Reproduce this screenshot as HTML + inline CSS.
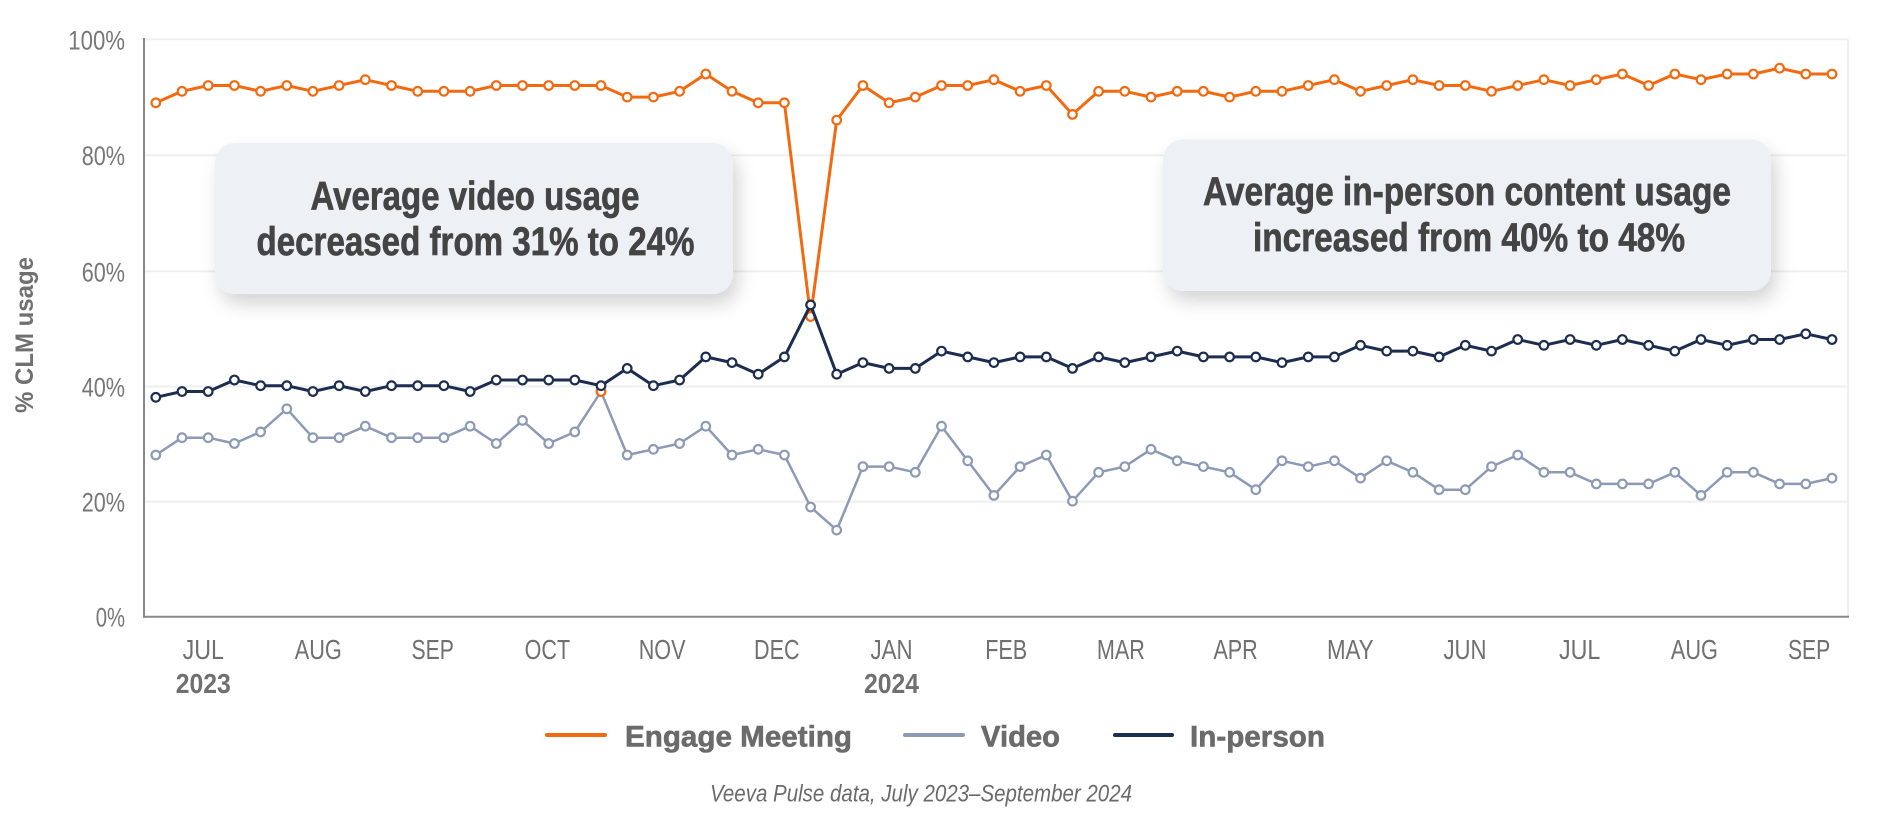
<!DOCTYPE html>
<html>
<head>
<meta charset="utf-8">
<style>
  html,body{margin:0;padding:0;background:#fff;}
  svg{display:block;}
  text{font-family:"Liberation Sans Narrow","Liberation Sans",sans-serif;}
</style>
</head>
<body>
<svg width="1880" height="817" viewBox="0 0 1880 817" xmlns="http://www.w3.org/2000/svg">
  <defs>
    <filter id="sh" x="-10%" y="-15%" width="125%" height="150%">
      <feDropShadow dx="5" dy="10" stdDeviation="9" flood-color="#000" flood-opacity="0.17"/>
    </filter>
    <marker id="mo" markerUnits="userSpaceOnUse" markerWidth="16" markerHeight="16" refX="8" refY="8" overflow="visible">
      <circle cx="8" cy="8" r="4.3" fill="#fff" stroke="#f26a10" stroke-width="2.2"/>
    </marker>
    <marker id="mv" markerUnits="userSpaceOnUse" markerWidth="16" markerHeight="16" refX="8" refY="8" overflow="visible">
      <circle cx="8" cy="8" r="4.3" fill="#fff" stroke="#8d9ab6" stroke-width="2.2"/>
    </marker>
    <marker id="mn" markerUnits="userSpaceOnUse" markerWidth="16" markerHeight="16" refX="8" refY="8" overflow="visible">
      <circle cx="8" cy="8" r="4.3" fill="#fff" stroke="#1d2d4f" stroke-width="2.2"/>
    </marker>
  </defs>

  <!-- gridlines -->
  <g stroke="#efefef" stroke-width="2">
    <line x1="144" y1="39.3" x2="1848" y2="39.3"/>
    <line x1="144" y1="155.2" x2="1848" y2="155.2"/>
    <line x1="144" y1="271.3" x2="1848" y2="271.3"/>
    <line x1="144" y1="386.5" x2="1848" y2="386.5"/>
    <line x1="144" y1="501.6" x2="1848" y2="501.6"/>
    <line x1="1848" y1="39.3" x2="1848" y2="616.7"/>
  </g>

  <!-- axes -->
  <line x1="144" y1="38" x2="144" y2="617.7" stroke="#888" stroke-width="2"/>
  <line x1="143" y1="616.7" x2="1849" y2="616.7" stroke="#888" stroke-width="2"/>

  <!-- y tick labels -->
  <g fill="#777" font-size="27" text-anchor="end">
    <text x="125" y="49.3" textLength="56.7" lengthAdjust="spacingAndGlyphs">100%</text>
    <text x="125" y="165.2" textLength="43.3" lengthAdjust="spacingAndGlyphs">80%</text>
    <text x="125" y="281.3" textLength="43.3" lengthAdjust="spacingAndGlyphs">60%</text>
    <text x="125" y="396.5" textLength="43.3" lengthAdjust="spacingAndGlyphs">40%</text>
    <text x="125" y="511.6" textLength="43.3" lengthAdjust="spacingAndGlyphs">20%</text>
    <text x="125" y="626.7" textLength="29.3" lengthAdjust="spacingAndGlyphs">0%</text>
  </g>

  <!-- y axis title -->
  <text transform="translate(33,335) rotate(-90)" text-anchor="middle" font-size="25" font-weight="bold" fill="#707070" textLength="156" lengthAdjust="spacingAndGlyphs">% CLM usage</text>

  <!-- x labels -->
  <g fill="#707070" font-size="28" text-anchor="middle">
    <text x="203.3" y="659" textLength="41.3" lengthAdjust="spacingAndGlyphs">JUL</text>
    <text x="318.3" y="659" textLength="47" lengthAdjust="spacingAndGlyphs">AUG</text>
    <text x="432.7" y="659" textLength="42.3" lengthAdjust="spacingAndGlyphs">SEP</text>
    <text x="547.4" y="659" textLength="45.5" lengthAdjust="spacingAndGlyphs">OCT</text>
    <text x="662.1" y="659" textLength="46.7" lengthAdjust="spacingAndGlyphs">NOV</text>
    <text x="776.8" y="659" textLength="45.5" lengthAdjust="spacingAndGlyphs">DEC</text>
    <text x="891.5" y="659" textLength="42" lengthAdjust="spacingAndGlyphs">JAN</text>
    <text x="1006.2" y="659" textLength="42" lengthAdjust="spacingAndGlyphs">FEB</text>
    <text x="1120.9" y="659" textLength="48" lengthAdjust="spacingAndGlyphs">MAR</text>
    <text x="1235.6" y="659" textLength="44.3" lengthAdjust="spacingAndGlyphs">APR</text>
    <text x="1350.3" y="659" textLength="46.7" lengthAdjust="spacingAndGlyphs">MAY</text>
    <text x="1465" y="659" textLength="43" lengthAdjust="spacingAndGlyphs">JUN</text>
    <text x="1579.7" y="659" textLength="41.3" lengthAdjust="spacingAndGlyphs">JUL</text>
    <text x="1694.4" y="659" textLength="47" lengthAdjust="spacingAndGlyphs">AUG</text>
    <text x="1809.1" y="659" textLength="42.3" lengthAdjust="spacingAndGlyphs">SEP</text>
    <text x="203.3" y="693" font-weight="bold" textLength="55" lengthAdjust="spacingAndGlyphs">2023</text>
    <text x="891.5" y="693" font-weight="bold" textLength="55" lengthAdjust="spacingAndGlyphs">2024</text>
  </g>

  <!-- annotation boxes -->
  <rect x="215" y="143" width="518" height="151" rx="20" ry="20" fill="#edf0f5" filter="url(#sh)"/>
  <rect x="1163" y="139.5" width="608" height="151.5" rx="20" ry="20" fill="#edf0f5" filter="url(#sh)"/>
  <g fill="#444" stroke="#444" stroke-width="0.7" font-size="40" font-weight="bold" text-anchor="middle">
    <text x="475" y="209.3" textLength="329" lengthAdjust="spacingAndGlyphs">Average video usage</text>
    <text x="475.5" y="255" textLength="438" lengthAdjust="spacingAndGlyphs">decreased from 31% to 24%</text>
    <text x="1467" y="204.8" textLength="528" lengthAdjust="spacingAndGlyphs">Average in-person content usage</text>
    <text x="1469" y="251" textLength="432" lengthAdjust="spacingAndGlyphs">increased from 40% to 48%</text>
  </g>

  <!-- Engage Meeting -->
  <polyline fill="none" stroke="#f26a10" stroke-width="3" stroke-linejoin="round"
    marker-start="url(#mo)" marker-mid="url(#mo)" marker-end="url(#mo)"
    points="155.8,102.8 182,91.3 208.2,85.5 234.4,85.5 260.6,91.3 286.8,85.5 312.9,91.3 339.1,85.5 365.3,79.7 391.5,85.5 417.7,91.3 443.9,91.3 470.1,91.3 496.3,85.5 522.5,85.5 548.7,85.5 574.8,85.5 601,85.5 627.2,97.1 653.4,97.1 679.6,91.3 705.8,74 732,91.3 758.2,102.8 784.4,102.8 810.6,316.5 836.7,120.1 862.9,85.5 889.1,102.8 915.3,97.1 941.5,85.5 967.7,85.5 993.9,79.7 1020.1,91.3 1046.3,85.5 1072.5,114.4 1098.6,91.3 1124.8,91.3 1151,97.1 1177.2,91.3 1203.4,91.3 1229.6,97.1 1255.8,91.3 1282,91.3 1308.2,85.5 1334.4,79.7 1360.5,91.3 1386.7,85.5 1412.9,79.7 1439.1,85.5 1465.3,85.5 1491.5,91.3 1517.7,85.5 1543.9,79.7 1570.1,85.5 1596.3,79.7 1622.4,74 1648.6,85.5 1674.8,74 1701,79.7 1727.2,74 1753.4,74 1779.6,68.2 1805.8,74 1832,74"/>

  <!-- Video -->
  <polyline fill="none" stroke="#8d9ab6" stroke-width="2.5" stroke-linejoin="round"
    marker-start="url(#mv)" marker-mid="url(#mv)" marker-end="url(#mv)"
    points="155.8,455 182,437.7 208.2,437.7 234.4,443.5 260.6,431.9 286.8,408.8 312.9,437.7 339.1,437.7 365.3,426.2 391.5,437.7 417.7,437.7 443.9,437.7 470.1,426.2 496.3,443.5 522.5,420.4 548.7,443.5 574.8,431.9 601,391.5 627.2,455 653.4,449.3 679.6,443.5 705.8,426.2 732,455 758.2,449.3 784.4,455 810.6,507 836.7,530.1 862.9,466.6 889.1,466.6 915.3,472.3 941.5,426.2 967.7,460.8 993.9,495.4 1020.1,466.6 1046.3,455 1072.5,501.2 1098.6,472.3 1124.8,466.6 1151,449.3 1177.2,460.8 1203.4,466.6 1229.6,472.3 1255.8,489.7 1282,460.8 1308.2,466.6 1334.4,460.8 1360.5,478.1 1386.7,460.8 1412.9,472.3 1439.1,489.7 1465.3,489.7 1491.5,466.6 1517.7,455 1543.9,472.3 1570.1,472.3 1596.3,483.9 1622.4,483.9 1648.6,483.9 1674.8,472.3 1701,495.4 1727.2,472.3 1753.4,472.3 1779.6,483.9 1805.8,483.9 1832,478.1"/>
  <circle cx="601" cy="391.5" r="4.3" fill="#fff" stroke="#f26a10" stroke-width="2.2"/>

  <!-- In-person -->
  <polyline fill="none" stroke="#1d2d4f" stroke-width="3" stroke-linejoin="round"
    marker-start="url(#mn)" marker-mid="url(#mn)" marker-end="url(#mn)"
    points="155.8,397.3 182,391.5 208.2,391.5 234.4,380 260.6,385.7 286.8,385.7 312.9,391.5 339.1,385.7 365.3,391.5 391.5,385.7 417.7,385.7 443.9,385.7 470.1,391.5 496.3,380 522.5,380 548.7,380 574.8,380 601,385.7 627.2,368.4 653.4,385.7 679.6,380 705.8,356.9 732,362.6 758.2,374.2 784.4,356.9 810.6,304.9 836.7,374.2 862.9,362.6 889.1,368.4 915.3,368.4 941.5,351.1 967.7,356.9 993.9,362.6 1020.1,356.9 1046.3,356.9 1072.5,368.4 1098.6,356.9 1124.8,362.6 1151,356.9 1177.2,351.1 1203.4,356.9 1229.6,356.9 1255.8,356.9 1282,362.6 1308.2,356.9 1334.4,356.9 1360.5,345.3 1386.7,351.1 1412.9,351.1 1439.1,356.9 1465.3,345.3 1491.5,351.1 1517.7,339.5 1543.9,345.3 1570.1,339.5 1596.3,345.3 1622.4,339.5 1648.6,345.3 1674.8,351.1 1701,339.5 1727.2,345.3 1753.4,339.5 1779.6,339.5 1805.8,333.8 1832,339.5"/>

  <!-- legend -->
  <line x1="547" y1="735" x2="605" y2="735" stroke="#f26a10" stroke-width="4" stroke-linecap="round"/>
  <line x1="905" y1="735" x2="963" y2="735" stroke="#8d9ab6" stroke-width="4" stroke-linecap="round"/>
  <line x1="1115" y1="735" x2="1172" y2="735" stroke="#1d2d4f" stroke-width="4" stroke-linecap="round"/>
  <g fill="#6b6b6b" stroke="#6b6b6b" stroke-width="0.6" font-size="30" font-weight="bold">
    <text x="625" y="746.7" textLength="227" lengthAdjust="spacingAndGlyphs">Engage Meeting</text>
    <text x="981" y="746.7" textLength="79" lengthAdjust="spacingAndGlyphs">Video</text>
    <text x="1190" y="746.7" textLength="135" lengthAdjust="spacingAndGlyphs">In-person</text>
  </g>

  <!-- footer -->
  <text x="710" y="801.7" font-size="24" font-style="italic" fill="#6a6a6a" textLength="422" lengthAdjust="spacingAndGlyphs">Veeva Pulse data, July 2023–September 2024</text>
</svg>
</body>
</html>
